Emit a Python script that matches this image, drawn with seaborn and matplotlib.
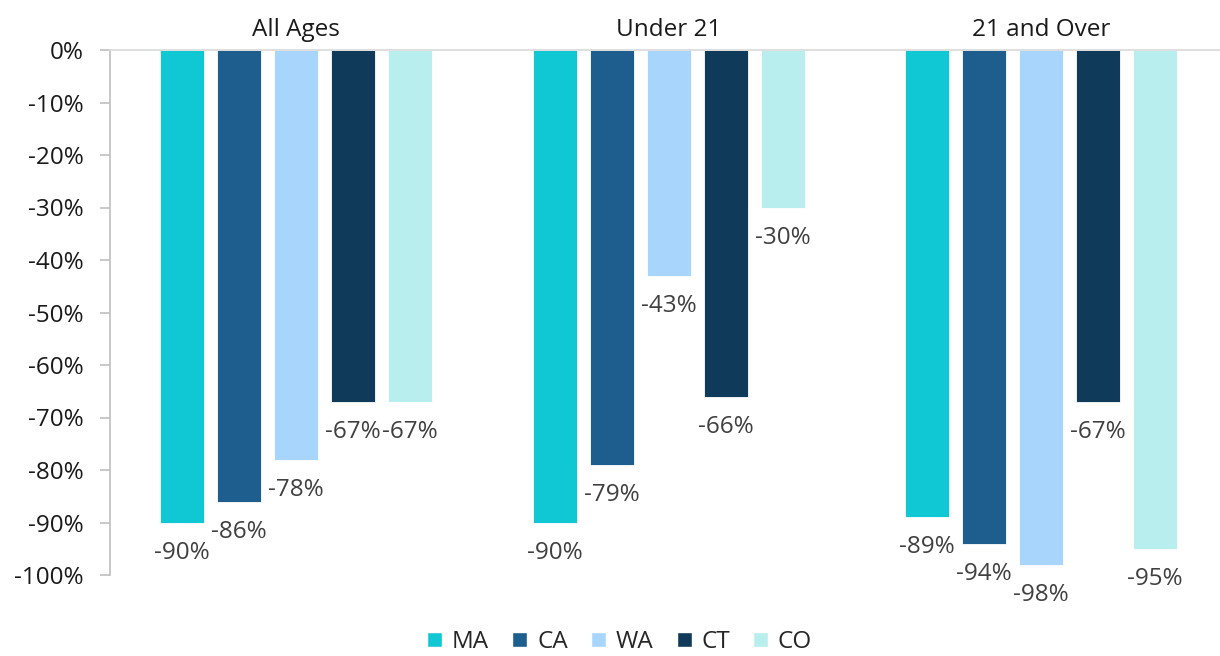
import pandas as pd
import matplotlib.pyplot as plt
import seaborn as sns
from matplotlib.patches import Patch

groups = ["All Ages", "Under 21", "21 and Over"]
states = ["MA", "CA", "WA", "CT", "CO"]
ma = [-90, -90, -89]
ca = [-86, -79, -94]
wa = [-78, -43, -98]
ct = [-67, -66, -67]
co = [-67, -30, -95]

COLORS = {"MA": "#0fc8d4", "CA": "#1d5e8e", "WA": "#a8d5fc",
          "CT": "#0f3a5a", "CO": "#b8eeed"}

series = {"MA": ma, "CA": ca, "WA": wa, "CT": ct, "CO": co}
rows = []
for st in states:
    for g, v in zip(groups, series[st]):
        rows.append({"group": g, "state": st, "change": v})
df = pd.DataFrame(rows)

sns.set_style("white")
plt.rcParams["font.family"] = ["Open Sans", "DejaVu Sans"]

fig = plt.figure(figsize=(12.2, 6.56), dpi=100)
ax = fig.add_axes([110 / 1220, 81 / 656, 1110 / 1220, 525 / 656])

sns.barplot(data=df, x="group", y="change", hue="state", order=groups,
            hue_order=states, palette=COLORS, saturation=1, width=0.765,
            gap=0.23, edgecolor="white", linewidth=0.6, legend=False, ax=ax)

for cont in ax.containers:
    ax.bar_label(cont, labels=[f"{v:.0f}%" for v in cont.datavalues],
                 padding=13, fontsize=17.5, color="#404040")

ax.set_xlim(-0.5, 2.48)
ax.set_ylim(-100, 0)
ax.set_yticks(range(-100, 1, 10))
ax.set_yticklabels([f"{t}%" for t in range(-100, 1, 10)], fontsize=17.5, color="#1a1a1a")
ax.xaxis.tick_top()
ax.tick_params(axis="x", length=0, labelsize=17.5, labelcolor="#1a1a1a", pad=6)
ax.tick_params(axis="y", left=True, length=7, width=1.2, color="#bfbfbf", pad=12)
ax.set_xlabel("")
ax.set_ylabel("")

for side in ["right", "bottom"]:
    ax.spines[side].set_visible(False)
ax.spines["left"].set_color("#bfbfbf")
ax.spines["left"].set_linewidth(1.2)
ax.spines["top"].set_color("#d9d9d9")
ax.spines["top"].set_linewidth(1.2)

handles = [Patch(facecolor=COLORS[s], label=s) for s in states]
fig.legend(handles=handles, loc="center", bbox_to_anchor=(0.508, 14 / 656),
           ncol=5, frameon=False, fontsize=17.5, handlelength=0.62,
           handleheight=0.62, handletextpad=0.4, columnspacing=0.95)

plt.savefig("out.png", dpi=100)
plt.close()
